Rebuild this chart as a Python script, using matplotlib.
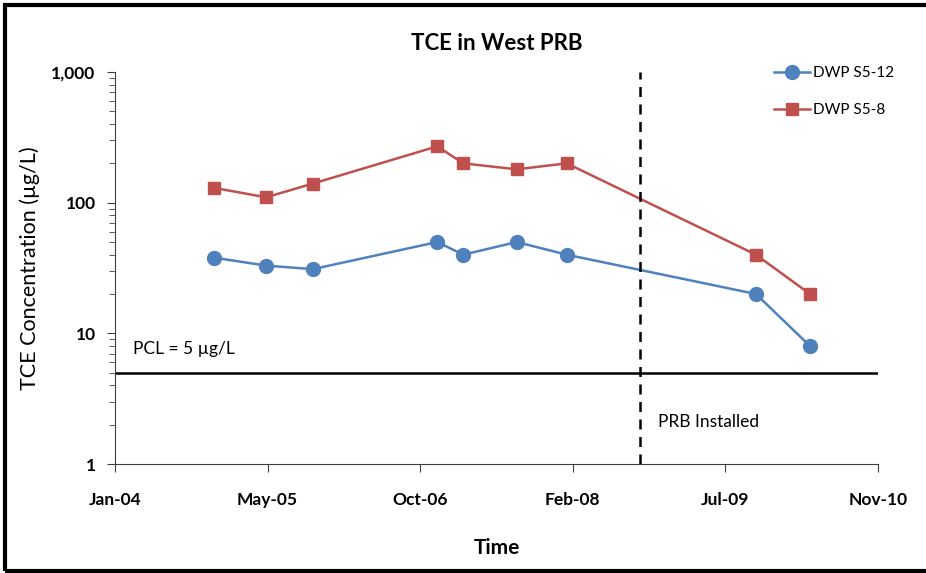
import datetime as dt
import matplotlib
matplotlib.use('Agg')
from matplotlib import pyplot as plt
import matplotlib.dates as mdates
from matplotlib.ticker import LogLocator, FuncFormatter, NullFormatter
from matplotlib.patches import Rectangle

plt.rcParams['font.family'] = ['Lato', 'DejaVu Sans']

# sampling dates
dates_s5_12 = ['2004-12-02', '2005-05-23', '2005-10-23', '2006-12-05', '2007-02-28',
               '2007-08-22', '2008-02-02', '2009-10-14', '2010-04-09']
tce_s5_12 = [38, 33, 31, 50, 40, 50, 40, 20, 8]

dates_s5_8 = ['2004-12-02', '2005-05-23', '2005-10-23', '2006-12-05', '2007-02-28',
              '2007-08-22', '2008-02-02', '2009-10-14', '2010-04-09']
tce_s5_8 = [130, 110, 140, 270, 200, 180, 200, 40, 20]

pcl = 5
prb_date = '2008-09-29'
x_start = '2004-01-14'
x_end = '2010-11-18'


def to_dt(s):
    return dt.datetime.strptime(s, '%Y-%m-%d')


fig = plt.figure(figsize=(9.26, 5.73), dpi=100)
ax = fig.add_axes([0.1242, 0.1902, 0.824, 0.6841])

blue = '#4F81BD'
red = '#C0504D'
ax.plot([to_dt(d) for d in dates_s5_12], tce_s5_12, color=blue, lw=1.8,
        marker='o', ms=10, label='DWP S5-12')
ax.plot([to_dt(d) for d in dates_s5_8], tce_s5_8, color=red, lw=1.8,
        marker='s', ms=8.5, label='DWP S5-8')

ax.axhline(pcl, color='black', lw=1.8)
ax.axvline(to_dt(prb_date), color='black', lw=1.8, ls=(0, (4, 3)))

ax.set_yscale('log')
ax.set_ylim(1, 1000)
ax.yaxis.set_major_locator(LogLocator(base=10))
ax.yaxis.set_minor_locator(LogLocator(base=10, subs=range(2, 10)))
ax.yaxis.set_major_formatter(FuncFormatter(lambda v, p: f'{v:,.0f}'))
ax.yaxis.set_minor_formatter(NullFormatter())

x0, x1 = to_dt(x_start), to_dt(x_end)
ax.set_xlim(x0, x1)
ax.set_xticks([x0 + dt.timedelta(days=500 * i) for i in range(6)])
ax.xaxis.set_major_formatter(mdates.DateFormatter('%b-%y'))

for s in ['top', 'right']:
    ax.spines[s].set_visible(False)
ax.spines['left'].set_color('#404040')
ax.spines['bottom'].set_color('#404040')
ax.tick_params(axis='both', which='major', direction='out', length=6,
               labelsize=12.5, pad=8, color='#404040')
ax.tick_params(axis='y', which='minor', direction='out', length=4, color='#404040')
ax.tick_params(axis='x', pad=14)
for lbl in ax.get_xticklabels() + ax.get_yticklabels():
    lbl.set_fontweight('bold')

ax.set_title('TCE in West PRB', fontsize=16, fontweight='bold', pad=16)
ax.set_xlabel('Time', fontsize=15, fontweight='bold', labelpad=22)
ax.set_ylabel('TCE Concentration (µg/L)', fontsize=15.5, labelpad=8)

ax.text(0.024, 0.28, 'PCL = 5 µg/L', transform=ax.transAxes, fontsize=12.5)
ax.text(0.711, 0.095, 'PRB Installed', transform=ax.transAxes, fontsize=12.5)

ax.legend(loc='upper left', bbox_to_anchor=(0.845, 1.05), frameon=False,
          fontsize=11, labelspacing=1.5, handlelength=2.4, handletextpad=0.2)

fig.patches.append(Rectangle((0.005, 0.004), 1.1, 0.987, transform=fig.transFigure,
                             fill=False, edgecolor='black', lw=3, clip_on=False))

fig.savefig('out.png', dpi=100)
